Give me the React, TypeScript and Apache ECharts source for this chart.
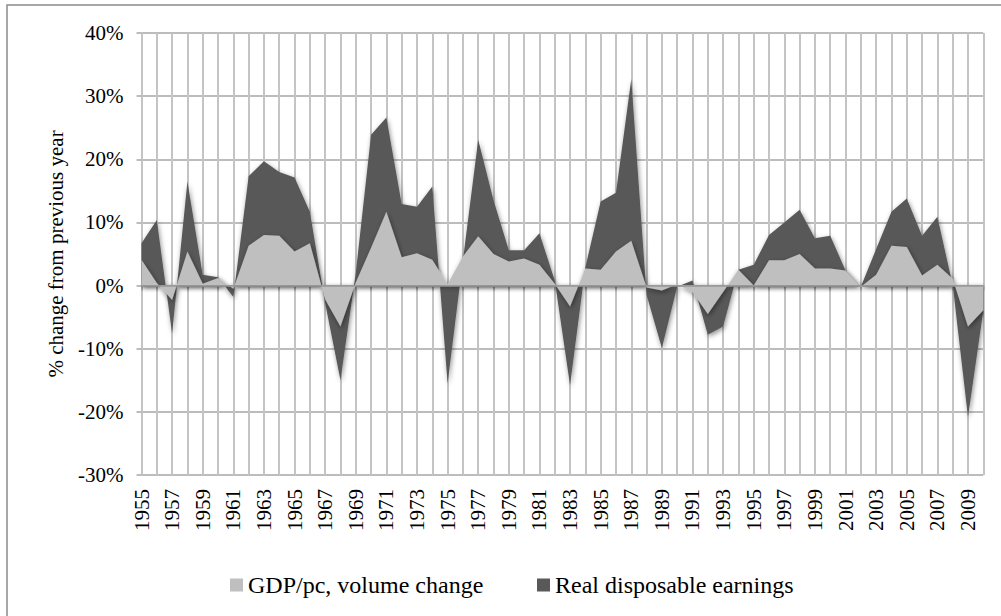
import React, { useEffect, useRef } from 'react';
import * as echarts from 'echarts';

const years = [
  '1955', '1956', '1957', '1958', '1959', '1960', '1961', '1962', '1963', '1964',
  '1965', '1966', '1967', '1968', '1969', '1970', '1971', '1972', '1973', '1974',
  '1975', '1976', '1977', '1978', '1979', '1980', '1981', '1982', '1983', '1984',
  '1985', '1986', '1987', '1988', '1989', '1990', '1991', '1992', '1993', '1994',
  '1995', '1996', '1997', '1998', '1999', '2000', '2001', '2002', '2003', '2004',
  '2005', '2006', '2007', '2008', '2009', '2010',
];

// GDP per capita, volume change (%)
const gdpPc = [
  4.1, 0.4, -2.3, 5.4, 0.3, 1.2, -0.5, 6.3, 8.0, 7.9,
  5.4, 6.7, -2.2, -6.5, 0.5, 6.0, 11.7, 4.5, 5.1, 4.1,
  0.2, 4.6, 7.8, 5.0, 3.8, 4.3, 3.3, 0.3, -3.3, 2.7,
  2.5, 5.4, 7.1, -0.3, -0.8, 0.2, -1.0, -4.5, -1.0, 2.5,
  0.0, 4.0, 4.0, 5.0, 2.7, 2.7, 2.4, -0.2, 1.7, 6.3,
  6.1, 1.6, 3.3, 1.1, -6.5, -3.9,
];

// Real disposable earnings (%)
const earnings = [
  6.7, 10.4, -7.6, 16.5, 1.7, 1.3, -1.8, 17.3, 19.7, 18.0,
  17.1, 11.7, -2.8, -15.0, 2.0, 23.9, 26.6, 12.9, 12.5, 15.7,
  -15.5, 4.0, 23.1, 13.5, 5.6, 5.6, 8.3, 0.8, -15.8, 2.9,
  13.3, 14.7, 32.7, -1.5, -9.9, -0.2, 0.8, -7.8, -6.5, 2.5,
  3.3, 8.0, 10.0, 12.0, 7.5, 7.9, 2.4, -0.2, 5.8, 11.7,
  13.8, 7.9, 10.9, 0.1, -20.8, -4.0,
];

const seriesNames = ['GDP/pc, volume change', 'Real disposable earnings'];
const FONT = '"Liberation Serif", "Times New Roman", serif';
const LIGHT = '#bfbfbf';
const DARK = '#595959';

export default function App() {
  const ref = useRef<HTMLDivElement>(null);

  useEffect(() => {
    if (!ref.current) return;
    const chart = echarts.init(ref.current, null, { renderer: 'svg' });
    const shadow = {
      shadowBlur: 5,
      shadowColor: 'rgba(0,0,0,0.45)',
      shadowOffsetX: 1,
      shadowOffsetY: 2,
    };
    chart.setOption({
      animation: false,
      backgroundColor: '#ffffff',
      textStyle: { fontFamily: FONT },
      grid: { left: 141.5, top: 33, width: 841.8, height: 442 },
      graphic: [
        {
          type: 'rect',
          silent: true,
          z: -10,
          shape: { x: 7, y: 5, width: 1200, height: 800 },
          style: { fill: 'none', stroke: '#8a8a8a', lineWidth: 1.5 },
        },
      ],
      legend: [
        {
          left: 225,
          top: 568,
          data: [seriesNames[0]],
          icon: 'rect',
          itemWidth: 13,
          itemHeight: 13,
          itemGap: 5,
          textStyle: { fontFamily: FONT, fontSize: 24, color: '#000' },
        },
        {
          left: 532,
          top: 568,
          data: [seriesNames[1]],
          icon: 'rect',
          itemWidth: 13,
          itemHeight: 13,
          itemGap: 5,
          textStyle: { fontFamily: FONT, fontSize: 24, color: '#000' },
        },
      ],
      xAxis: {
        type: 'category',
        data: years,
        boundaryGap: false,
        axisLine: { show: false },
        axisTick: {
          show: true,
          interval: 0,
          length: 5,
          lineStyle: { color: '#a6a6a6', width: 1.5 },
        },
        axisLabel: {
          interval: 1,
          rotate: 90,
          fontFamily: FONT,
          fontSize: 21,
          color: '#000',
          margin: 14,
        },
        splitLine: {
          show: true,
          interval: 0,
          lineStyle: { color: '#c4c4c4', width: 2 },
        },
      },
      yAxis: {
        type: 'value',
        min: -30,
        max: 40,
        interval: 10,
        name: '% change from previous year',
        nameLocation: 'middle',
        nameGap: 75,
        nameTextStyle: { fontFamily: FONT, fontSize: 21, color: '#000' },
        axisLine: { show: false },
        axisTick: { show: true, length: 5, lineStyle: { color: '#a6a6a6', width: 1.5 } },
        axisLabel: {
          formatter: '{value}%',
          fontFamily: FONT,
          fontSize: 21,
          color: '#000',
          margin: 18,
        },
        splitLine: { show: true, lineStyle: { color: '#a6a6a6', width: 1.5 } },
      },
      series: [
        {
          name: seriesNames[1],
          type: 'line',
          data: earnings,
          symbol: 'none',
          lineStyle: { width: 0 },
          itemStyle: { color: DARK },
          areaStyle: { color: DARK, opacity: 1, ...shadow },
          silent: true,
        },
        {
          name: seriesNames[0],
          type: 'line',
          data: gdpPc,
          symbol: 'none',
          lineStyle: { width: 0 },
          itemStyle: { color: LIGHT },
          areaStyle: { color: LIGHT, opacity: 1, ...shadow },
          silent: true,
          markLine: {
            silent: true,
            symbol: 'none',
            label: { show: false },
            lineStyle: { color: '#999999', width: 1.5, type: 'solid' },
            data: [{ yAxis: 0 }],
          },
        },
      ],
    });
    return () => chart.dispose();
  }, []);

  return (
    <div
      ref={ref}
      style={{ position: 'absolute', left: 0, top: 0, width: 1001, height: 616 }}
    />
  );
}
